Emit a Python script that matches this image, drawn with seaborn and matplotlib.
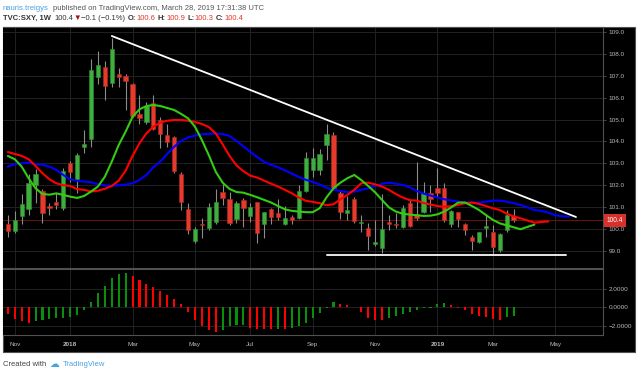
import numpy as np
import pandas as pd
import matplotlib
matplotlib.use("Agg")
import matplotlib.pyplot as plt
import seaborn as sns
from matplotlib.patches import Rectangle
from matplotlib.ticker import FuncFormatter

# weekly SXY candles, week of Oct 30 2017 .. week of Mar 25 2019 (bar 0..73)
opens = [100.22, 99.91, 100.61, 100.90, 102.01, 101.72, 101.04, 101.24, 100.98, 103.03,
         102.27, 103.76, 104.10, 106.96, 107.39, 106.66, 107.10, 106.98, 106.61, 105.24,
         104.91, 105.77, 104.98, 104.28, 104.19, 102.50, 100.90, 99.46, 100.23, 100.07,
         100.31, 101.71, 101.36, 100.46, 101.33, 100.61, 101.22, 100.22, 100.90, 100.75,
         100.23, 100.54, 100.49, 101.75, 102.70, 102.70, 103.84, 104.30, 101.66, 100.72,
         101.36, 100.29, 100.03, 99.32, 99.12, 100.31, 100.25, 100.11, 101.21, 100.69,
         100.80, 101.66, 101.89, 101.86, 100.23, 100.77, 100.23, 99.65, 99.43, 100.07,
         99.85, 99.05, 99.96, 100.6]
highs = [100.64, 100.83, 101.60, 102.52, 102.73, 101.82, 101.21, 101.66, 102.79, 103.12,
         103.49, 104.53, 107.75, 108.13, 107.68, 108.75, 107.34, 107.08, 106.66, 106.12,
         105.82, 106.12, 105.10, 104.80, 104.25, 102.62, 101.18, 100.11, 100.49, 101.18,
         101.82, 102.07, 101.71, 101.30, 101.40, 101.18, 101.25, 100.80, 100.95, 101.36,
         101.05, 100.64, 102.01, 103.54, 103.69, 103.64, 104.80, 104.45, 101.79, 101.51,
         101.48, 100.64, 100.26, 100.42, 101.60, 100.64, 100.72, 101.10, 101.33, 103.08,
         102.17, 102.01, 102.77, 102.09, 100.87, 100.80, 100.26, 99.73, 99.88, 100.69,
         100.19, 99.81, 100.87, 100.9]
lows = [99.63, 99.81, 100.23, 100.64, 101.21, 100.29, 100.64, 100.90, 100.87, 102.17,
        101.63, 103.49, 103.76, 106.63, 105.90, 106.50, 106.50, 105.44, 105.13, 104.80,
        104.78, 104.53, 103.69, 103.73, 102.55, 100.87, 99.78, 99.35, 99.58, 99.96,
        100.23, 101.10, 100.19, 100.29, 100.11, 100.34, 99.35, 99.58, 100.23, 100.42,
        100.19, 100.23, 100.45, 101.71, 102.39, 102.47, 103.16, 101.79, 100.46, 100.42,
        100.26, 99.88, 99.05, 99.23, 98.92, 99.96, 100.03, 100.03, 100.08, 100.42,
        100.72, 100.80, 101.48, 100.34, 100.11, 100.08, 99.73, 99.05, 99.38, 99.65,
        98.80, 98.97, 99.88, 100.3]
closes = [99.91, 100.42, 101.13, 102.09, 102.52, 100.75, 100.96, 101.12, 102.64, 102.62,
          103.37, 103.89, 107.26, 107.49, 106.55, 108.22, 106.93, 106.76, 105.18, 105.09,
          105.62, 104.59, 104.34, 103.96, 102.67, 101.25, 99.96, 100.00, 100.20, 101.02,
          101.22, 101.40, 100.26, 101.18, 100.95, 100.99, 99.84, 100.77, 100.57, 100.54,
          100.49, 100.42, 101.74, 103.23, 103.23, 103.41, 104.34, 101.86, 100.80, 100.87,
          100.37, 100.32, 99.68, 99.43, 100.00, 100.25, 100.17, 100.98, 100.14, 100.49,
          101.63, 101.37, 101.63, 100.42, 100.83, 100.46, 99.96, 99.46, 99.85, 100.10,
          99.17, 99.76, 100.64, 100.4]

# Alligator lines (they run ahead of the last candle)
lips = [103.34, 103.19, 102.85, 102.32, 101.86, 101.60, 101.57, 101.63, 101.56, 101.48,
        101.42, 101.51, 101.71, 101.94, 102.39, 103.08, 103.84, 104.45, 105.13, 105.47,
        105.62, 105.67, 105.62, 105.53, 105.44, 105.26, 105.06, 104.68, 104.07, 103.38,
        102.62, 102.12, 101.83, 101.69, 101.66, 101.56, 101.45, 101.33, 101.21, 101.05,
        100.90, 100.83, 100.80, 100.77, 100.77, 100.95, 101.45, 101.86, 102.12, 102.32,
        102.47, 102.24, 101.97, 101.68, 101.33, 100.99, 100.80, 100.70, 100.66, 100.63,
        100.60, 100.61, 100.67, 100.80, 100.99, 101.21, 101.21, 101.05, 100.87, 100.64,
        100.42, 100.26, 100.17, 100.08, 99.99, 100.10, 100.20]
teeth = [103.52, 103.43, 103.34, 103.19, 102.88, 102.55, 102.27, 102.09, 102.00, 101.97,
         101.82, 101.79, 101.72, 101.75, 101.84, 101.97, 102.21, 102.67, 103.34, 103.92,
         104.37, 104.68, 104.86, 104.95, 104.98, 104.98, 104.95, 104.89, 104.80, 104.66,
         104.37, 103.87, 103.34, 102.91, 102.64, 102.44, 102.35, 102.21, 102.07, 101.94,
         101.79, 101.63, 101.44, 101.29, 101.24, 101.18, 101.09, 101.13, 101.36, 101.56,
         101.79, 102.09, 102.12, 102.04, 101.94, 101.79, 101.60, 101.44, 101.32, 101.30,
         101.19, 101.12, 101.05, 101.02, 101.04, 101.10, 101.18, 101.21, 101.15, 101.05,
         100.95, 100.87, 100.70, 100.58, 100.49, 100.39, 100.29, 100.32, 100.35]
jaw = [102.85, 102.97, 103.00, 103.03, 102.96, 102.94, 102.85, 102.70, 102.47, 102.27,
       102.20, 102.17, 102.14, 102.04, 101.99, 101.98, 102.00, 102.03, 102.09, 102.24,
       102.47, 102.82, 103.08, 103.43, 103.76, 104.02, 104.18, 104.27, 104.33, 104.35,
       104.36, 104.34, 104.25, 104.02, 103.78, 103.52, 103.29, 103.06, 102.94, 102.82,
       102.68, 102.53, 102.38, 102.25, 102.15, 102.04, 101.89, 101.80, 101.74, 101.68,
       101.71, 101.79, 101.86, 101.97, 102.06, 102.12, 102.07, 102.01, 101.91, 101.74,
       101.62, 101.53, 101.44, 101.36, 101.30, 101.25, 101.22, 101.21, 101.21, 101.25,
       101.30, 101.30, 101.25, 101.18, 101.10, 100.99, 100.87, 100.83, 100.75, 100.63,
       100.58, 100.57]

# oscillator histogram, one bar per week
ao = [-0.71, -1.25, -1.50, -1.68, -1.50, -1.39, -1.25, -1.18, -1.14, -1.04,
      -0.79, -0.32, 0.54, 1.54, 2.25, 3.14, 3.61, 3.68, 3.32, 2.96,
      2.50, 2.14, 1.71, 1.36, 0.93, 0.36, -0.54, -1.32, -1.96, -2.46,
      -2.68, -2.39, -2.04, -1.93, -1.90, -2.21, -2.29, -2.32, -2.34, -2.29,
      -2.32, -2.21, -2.04, -1.68, -1.18, -0.61, -0.07, 0.61, 0.39, 0.21,
      0.04, -0.50, -1.14, -1.32, -1.36, -1.14, -0.96, -0.71, -0.50, -0.25,
      -0.11, -0.07, 0.39, 0.46, 0.21, -0.02, -0.25, -0.68, -0.96, -1.04,
      -1.21, -1.32, -1.04, -0.89]

tick_bars = [1, 9, 18, 27, 35, 44, 53, 62, 70, 79]
tick_labels = ["Nov", "2018", "Mar", "May", "Jul", "Sep", "Nov", "2019", "Mar", "May"]
price_ticks = [99, 100, 101, 102, 103, 104, 105, 106, 107, 108, 109]
ao_ticks = [-2, 0, 2]

# hand-drawn lines on the chart: (bar, price) end points
trend_x = [15, 82]
trend_y = [108.82, 100.55]
support_x = [46, 80.6]
support_y = [98.8, 98.8]

GREEN = "#3fae3f"
RED = "#e53a2c"
WICK = "#8c8c8c"
GRID = "#222222"
SPINE = "#505050"
TXT = "#b8b8b8"

sns.set_style("dark")
plt.rcParams["font.family"] = ["Liberation Sans", "DejaVu Sans"]

W, H = 640, 374
fig = plt.figure(figsize=(6.4, 3.74), dpi=100)
fig.patch.set_facecolor("white")


def fx(px):
    return px / W


def fy(py):
    return 1 - py / H


# black chart background incl. price scale and time scale
fig.add_artist(Rectangle((fx(3), fy(352)), fx(635) - fx(3), fy(27) - fy(352),
                         transform=fig.transFigure, facecolor="black",
                         edgecolor=SPINE, lw=0.8, zorder=0))

ax1 = fig.add_axes([fx(3), fy(268), fx(603) - fx(3), fy(27) - fy(268)])
ax2 = fig.add_axes([fx(3), fy(335), fx(603) - fx(3), fy(269) - fy(335)])

df = pd.DataFrame({"o": opens, "h": highs, "l": lows, "c": closes})
df["bar"] = np.arange(len(df))
up = df["c"] >= df["o"]
body_lo = df[["o", "c"]].min(axis=1)
body_h = (df["c"] - df["o"]).abs().clip(lower=0.05)

for ax in (ax1, ax2):
    ax.set_facecolor("black")
    ax.set_xlim(-0.7, 85.9)
    for side in ax.spines:
        ax.spines[side].set_color(SPINE)
        ax.spines[side].set_linewidth(0.8)
    ax.spines["left"].set_visible(False)
    ax.set_xticks(tick_bars)
    ax.grid(True, color=GRID, lw=0.7)
    ax.yaxis.tick_right()
    ax.tick_params(axis="y", colors=SPINE, labelcolor=TXT, labelsize=4.6,
                   length=2.5, width=0.6, pad=1.5)
    ax.tick_params(axis="x", length=0, labelcolor=TXT, labelsize=4.6)

# main panel
ax1.axhline(closes[-1], color="#6e1010", lw=0.7, zorder=1)
ax1.vlines(df["bar"], df["l"], df["h"], color=WICK, lw=0.8, zorder=2)
ax1.bar(df["bar"], body_h, bottom=body_lo, width=0.62,
        color=np.where(up, GREEN, RED), edgecolor=np.where(up, "#2f8f2f", "#b02a20"),
        lw=0.4, zorder=3)

sns.lineplot(x=np.arange(len(jaw)), y=jaw, ax=ax1, color="#0000ff", lw=1.5, zorder=4)
sns.lineplot(x=np.arange(len(teeth)), y=teeth, ax=ax1, color="#ff0000", lw=1.5, zorder=4)
sns.lineplot(x=np.arange(len(lips)), y=lips, ax=ax1, color="#33cc11", lw=1.5, zorder=4)

ax1.plot(trend_x, trend_y, color="white", lw=1.3, zorder=5)
ax1.plot(support_x, support_y, color="#e8e8e8", lw=1.4, zorder=5)

ax1.set_ylim(98.22, 109.23)
ax1.set_yticks(price_ticks)
ax1.yaxis.set_major_formatter(FuncFormatter(lambda v, p: f"{v:.1f}"))
ax1.tick_params(axis="x", labelbottom=False)
ax1.set_xlabel("")
ax1.set_ylabel("")
ax1.text(1.006, closes[-1], f"{closes[-1]:.1f}", transform=ax1.get_yaxis_transform(),
         fontsize=4.8, color="white", va="center", ha="left", zorder=6, clip_on=False,
         bbox=dict(boxstyle="square,pad=0.45", fc="#d8302a", ec="none"))

# oscillator panel
ao_s = pd.Series(ao)
ao_col = np.where(ao_s.diff().fillna(-1) > 0, "#0a8f0a", "#ff0000")
ax2.bar(np.arange(len(ao)), ao, width=0.3, color=ao_col, edgecolor="none", lw=0, zorder=3)
ax2.set_ylim(-2.95, 4.1)
ax2.set_yticks(ao_ticks)
ax2.yaxis.set_major_formatter(FuncFormatter(lambda v, p: f"{v:.4f}".replace("-", "\u2212")))
ax2.set_xticklabels(tick_labels)
ax2.tick_params(axis="x", pad=5)
for lbl in ax2.get_xticklabels():
    if lbl.get_text() in ("2018", "2019"):
        lbl.set_fontweight("bold")

# header
fs = 5.5
fig.text(fx(3), fy(9.5), "nauris.treigys", fontsize=fs, color="#4aa3df")
fig.text(fx(53), fy(9.5), "published on TradingView.com, March 28, 2019 17:31:38 UTC",
         fontsize=fs, color="#555555")
hdr = [(3, "TVC:SXY, 1W", "#333333", "bold"),
       (54, "100.4", "#333333", "normal"),
       (73, "\u25bc", "#a01010", "normal"),
       (81, "\u22120.1 (\u22120.1%)", "#333333", "normal"),
       (128, "O:", "#333333", "bold"), (136, "100.6", "#e0392b", "normal"),
       (157, "H:", "#333333", "bold"), (166, "100.9", "#e0392b", "normal"),
       (188, "L:", "#333333", "bold"), (194, "100.3", "#e0392b", "normal"),
       (216, "C:", "#333333", "bold"), (224, "100.4", "#e0392b", "normal")]
for xp, s, col, wt in hdr:
    fig.text(fx(xp), fy(19.5), s, fontsize=fs, color=col, fontweight=wt)

# footer
fig.text(fx(3), fy(366), "Created with", fontsize=fs, color="#444444")
fig.text(fx(49), fy(366.5), "\u2601", fontsize=7, color="#4aa3df",
         family=["DejaVu Sans"])
fig.text(fx(63), fy(366), "TradingView", fontsize=fs, color="#4aa3df")

fig.savefig("out.png", dpi=100, facecolor="white")
